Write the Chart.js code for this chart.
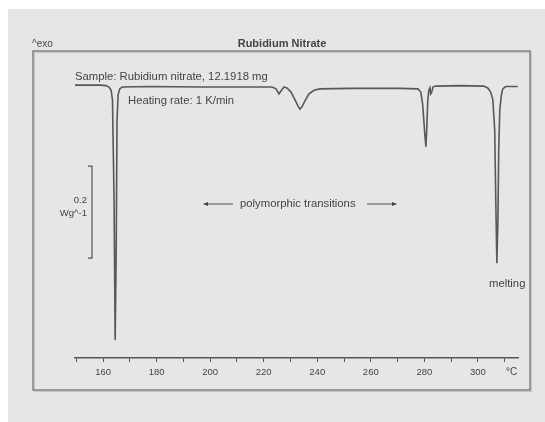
<!DOCTYPE html>
<html>
<head>
<meta charset="utf-8">
<title>Rubidium Nitrate</title>
<script src="https://cdn.jsdelivr.net/npm/chart.js@4.4.1/dist/chart.umd.min.js"></script>
<style>
  html, body { margin: 0; padding: 0; background: #ffffff; }
  canvas { display: block; }
</style>
</head>
<body>
<canvas id="dscChart" width="545" height="422"></canvas>
<script>
const temperatures = [
  149.5, 158.9, 161.1, 162.2, 163.0, 163.5, 164.1, 164.5, 164.9, 165.2, 165.6, 166.2, 167.1,
  177.5, 196.2, 214.9, 223.1, 224.6, 225.7, 226.5, 227.6, 228.7, 230.2, 231.7, 232.8, 233.5,
  234.3, 235.4, 236.9, 238.8, 241.0, 252.2, 270.9, 277.6, 278.7, 279.4, 280.2, 280.6, 280.9,
  281.3, 281.7, 282.1, 282.4, 282.8, 283.2, 284.3, 293.3, 302.2, 303.7, 304.8, 305.6, 306.3,
  306.7, 307.1, 307.5, 307.8, 308.2, 308.8, 309.3, 310.4, 314.9
];
const heatFlow = [
  0.004, 0.004, 0.003, 0.000, -0.007, -0.028, -0.246, -0.550, -0.354, -0.072, -0.017, -0.004, 0.000,
  0.001, 0.000, 0.000, 0.000, -0.004, -0.015, -0.008, 0.000, -0.002, -0.011, -0.028, -0.041, -0.048,
  -0.043, -0.030, -0.015, -0.007, -0.004, -0.003, -0.003, -0.004, -0.011, -0.039, -0.104, -0.130, -0.093,
  -0.028, -0.007, -0.002, -0.015, -0.011, 0.000, 0.002, 0.003, 0.002, -0.002, -0.011, -0.028, -0.093,
  -0.246, -0.383, -0.289, -0.137, -0.050, -0.017, -0.004, 0.001, 0.001
];

// As-indeling
const tickValues = [150, 160, 170, 180, 190, 200, 210, 220, 230, 240, 250, 260, 270, 280, 290, 300, 310];
const tickLabels = ['', '160', '', '180', '', '200', '', '220', '', '240', '', '260', '', '280', '', '300', ''];
const xRange = [149.5, 315];
const yRange = [-0.589, 0.0587];

const FONT = '"Liberation Sans", Arial, sans-serif';
const INK = '#444444';

// Achtergrond, kader en teksten
const decorPlugin = {
  id: 'decor',
  beforeDraw(chart) {
    const c = chart.ctx;
    c.save();
    c.fillStyle = '#ffffff';
    c.fillRect(0, 0, 545, 422);
    c.fillStyle = '#e6e6e6';
    c.fillRect(8, 9, 537, 413);
    // kader
    c.strokeStyle = '#c4c4c4';
    c.lineWidth = 1;
    c.strokeRect(34.5, 52.5, 497, 339);
    c.strokeStyle = '#888888';
    c.lineWidth = 1.6;
    c.strokeRect(33, 51, 497, 339);
    c.restore();
  },
  afterDraw(chart) {
    const c = chart.ctx;
    const y = chart.scales.y;
    c.save();
    c.fillStyle = INK;
    c.textBaseline = 'middle';

    c.font = '10px ' + FONT;
    c.textAlign = 'left';
    c.fillText('^exo', 32, 44);

    c.font = 'bold 11px ' + FONT;
    c.textAlign = 'center';
    c.fillText('Rubidium Nitrate', 282, 44);

    c.font = '11.3px ' + FONT;
    c.textAlign = 'left';
    c.fillText('Sample: Rubidium nitrate, 12.1918 mg', 75, 77);
    c.fillText('Heating rate: 1 K/min', 128, 101);

    // schaalbalk 0.2 W/g
    const yTop = y.getPixelForValue(-0.172);
    const yBot = y.getPixelForValue(-0.372);
    c.strokeStyle = '#555555';
    c.lineWidth = 1.2;
    c.beginPath();
    c.moveTo(88, yTop);
    c.lineTo(92, yTop);
    c.lineTo(92, yBot);
    c.lineTo(88, yBot);
    c.stroke();
    c.font = '9.5px ' + FONT;
    c.textAlign = 'right';
    c.fillText('0.2', 87, 200);
    c.fillText('Wg^-1', 87, 213);

    // polymorfe overgangen
    c.font = '11.3px ' + FONT;
    c.textAlign = 'left';
    c.fillText('polymorphic transitions', 240, 204);
    c.lineWidth = 1;
    c.beginPath();
    c.moveTo(204, 204); c.lineTo(233, 204);
    c.moveTo(367, 204); c.lineTo(396, 204);
    c.stroke();
    c.beginPath();
    c.moveTo(203, 204); c.lineTo(208, 202); c.lineTo(208, 206); c.closePath();
    c.moveTo(397, 204); c.lineTo(392, 202); c.lineTo(392, 206); c.closePath();
    c.fill();

    c.fillText('melting', 489, 284);
    c.font = '10px ' + FONT;
    c.fillText('°C', 506, 372);
    c.restore();
  }
};

const ctx = document.getElementById('dscChart').getContext('2d');
new Chart(ctx, {
  type: 'scatter',
  data: {
    datasets: [{
      data: temperatures.map((t, i) => ({ x: t, y: heatFlow[i] })),
      showLine: true,
      borderColor: '#585858',
      borderWidth: 1.6,
      pointRadius: 0,
      tension: 0
    }]
  },
  options: {
    responsive: false,
    animation: false,
    devicePixelRatio: 1,
    layout: { padding: { left: 75, right: 27, top: 60, bottom: 44 } },
    plugins: { legend: { display: false }, tooltip: { enabled: false } },
    scales: {
      x: {
        type: 'linear',
        min: xRange[0],
        max: xRange[1],
        afterBuildTicks: s => { s.ticks = tickValues.map(v => ({ value: v })); },
        afterFit: s => { s.height = 20; },
        ticks: {
          autoSkip: false,
          maxRotation: 0,
          padding: 5,
          color: INK,
          font: { family: FONT, size: 9.5 },
          callback: (v, i) => tickLabels[i]
        },
        grid: { drawOnChartArea: false, drawTicks: true, tickLength: 4, color: '#555555' },
        border: { display: true, color: '#555555', width: 1.5 }
      },
      y: { display: false, min: yRange[0], max: yRange[1] }
    }
  },
  plugins: [decorPlugin]
});
</script>
</body>
</html>
